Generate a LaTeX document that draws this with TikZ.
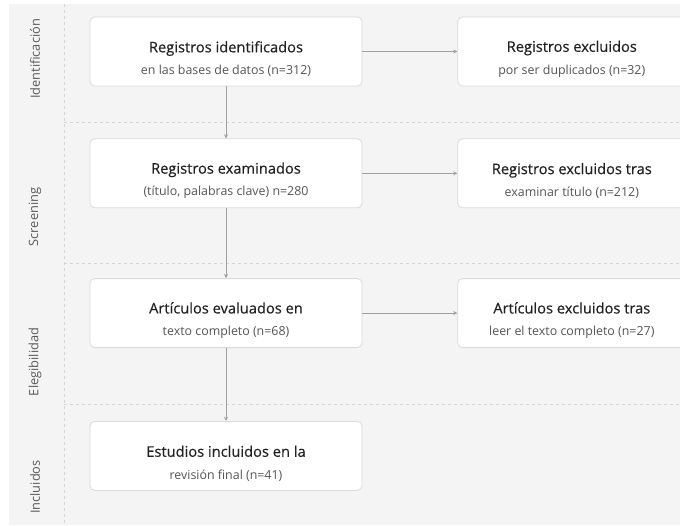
\documentclass[tikz,border=0pt]{standalone}
\usepackage{fontspec}
\setmainfont{Open Sans}
\newfontfamily\boxheadfont[FakeBold=0.35]{Open Sans}
\usetikzlibrary{arrows.meta, positioning}

\definecolor{pagebg}{HTML}{F4F4F4}
\definecolor{boxline}{HTML}{DADADA}
\definecolor{bandline}{HTML}{D4D4D4}
\definecolor{arrowgray}{HTML}{A0A0A0}
\definecolor{titletext}{HTML}{222222}
\definecolor{subtext}{HTML}{555555}
\definecolor{phasetext}{HTML}{5A5A5A}

% two-line box text: title, then the count line
\newcommand{\boxtext}[2]{\rule{0pt}{19.5pt}{\boxheadfont\fontsize{11}{13}\selectfont\color{titletext}#1}\\[3.75pt]{\fontsize{9.3}{11}\selectfont\color{subtext}#2}}

\begin{document}
\begin{tikzpicture}[x=0.75pt, y=-0.75pt,
    box/.style={rectangle, draw=boxline, fill=white, line width=0.6pt, rounded corners=3.5pt, minimum width=204pt, minimum height=51.75pt, align=center, inner sep=0pt, font=\fontsize{11}{13}\selectfont},
    sidebox/.style={box, minimum width=171pt},
    phase/.style={rotate=90, text=phasetext, font=\fontsize{9.6}{12}\selectfont},
    band/.style={draw=bandline, line width=0.5pt, dash pattern=on 2.5pt off 2pt},
    line/.style={draw=arrowgray, line width=0.55pt, -{Stealth[length=3.2pt, width=3pt]}}]
    \clip (0,0) rectangle (680,525);
    \fill[white] (0,0) rectangle (680,525);
    \fill[pagebg] (9,4) rectangle (680,525);
    % phase bands
    \draw[band] (64,4) -- (64,525);
    \draw[band] (64,122) -- (680,122);
    \draw[band] (64,263) -- (680,263);
    \draw[band] (64,404) -- (680,404);
    \node[phase] (pident) at (35,59) {Identificación};
    \node[phase] (pscreen) at (35,217) {Screening};
    \node[phase] (pelig) at (35,362) {Elegibilidad};
    \node[phase] (pincl) at (35,487) {Incluidos};
    % main column
    \node[box] (ident) at (226,51.5) {\boxtext{Registros identificados}{en las bases de datos (n=312)}};
    \node[box, below=39pt of ident] (exam) {\boxtext{Registros examinados}{(título, palabras clave) n=280}};
    \node[box, below=52.5pt of exam] (eval) {\boxtext{Artículos evaluados en}{texto completo (n=68)}};
    \node[box, below=54.75pt of eval] (incl) {\boxtext{Estudios incluidos en la}{revisión final (n=41)}};
    % exclusions
    \node[sidebox, right=71.25pt of ident] (dup) {\boxtext{Registros excluidos}{por ser duplicados (n=32)}};
    \node[sidebox, right=71.25pt of exam] (extit) {\boxtext{Registros excluidos tras}{examinar título (n=212)}};
    \node[sidebox, right=71.25pt of eval] (exfull) {\boxtext{Artículos excluidos tras}{leer el texto completo (n=27)}};
    \path[line] (ident) -- (exam);
    \path[line] (exam) -- (eval);
    \path[line] (eval) -- (incl);
    \path[line] (ident) -- (dup);
    \path[line] (exam) -- (extit);
    \path[line] (eval) -- (exfull);
\end{tikzpicture}
\end{document}
